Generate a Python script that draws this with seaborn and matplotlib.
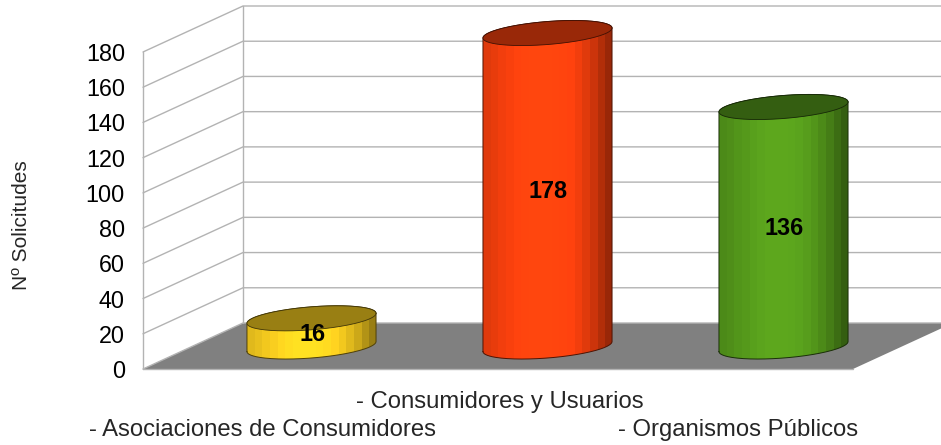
import numpy as np
import pandas as pd
import seaborn as sns
import matplotlib
matplotlib.use("Agg")
import matplotlib.pyplot as plt
from matplotlib.colors import to_rgb
from matplotlib.patches import Polygon

# Values
categories = ["Asociaciones de Consumidores", "Consumidores y Usuarios", "Organismos Públicos"]
solicitudes = [16, 178, 136]
bar_colors = ["#ffd320", "#ff420e", "#579d1c"]
y_ticks = [0, 20, 40, 60, 80, 100, 120, 140, 160, 180]

sns.set_style("white")
plt.rcParams["font.family"] = ["Liberation Sans", "DejaVu Sans"]

W, H = 941, 445
fig = plt.figure(figsize=(W / 100, H / 100), dpi=100, facecolor="white")

# axes box is the front plane of the fake 3D chart, in pixels
left_px, right_px, top_px, bottom_px = 143, 941, 52, 369
ax = fig.add_axes([left_px / W, 1 - bottom_px / H, (right_px - left_px) / W, (bottom_px - top_px) / H])

df = pd.DataFrame({"cat": categories, "n": solicitudes})
sns.barplot(data=df, x="cat", y="n", hue="cat", palette=bar_colors, width=0.547,
            legend=False, ax=ax, zorder=5, linewidth=0)

# category spacing is 236 px, one y unit is 1.761 px
px_x = 236.0
px_y = (bottom_px - top_px) / 180.0
x_min = (left_px - 311.5) / px_x
x_max = (right_px - 311.5) / px_x
ax.set_xlim(x_min, x_max)
ax.set_ylim(0, 180)

depth_x = 100 / px_x
depth_y = 46 / px_y
bar_base = 22.5 / px_y
grid_col = "#b3b3b3"

# floor
x_front_right = x_min + 710 / px_x
ax.fill([x_min, x_min + depth_x, x_front_right + depth_x, x_front_right],
        [0, depth_y, depth_y, 0], color="#808080", lw=0, clip_on=False, zorder=1)

# walls
for v in y_ticks:
    ax.plot([x_min, x_min + depth_x, x_max + 1], [v, v + depth_y, v + depth_y],
            color=grid_col, lw=1.0, clip_on=False, zorder=2)
ax.plot([x_min, x_min], [0, 180], color=grid_col, lw=1.0, clip_on=False, zorder=2)
ax.plot([x_min + depth_x] * 2, [depth_y, 180 + depth_y], color=grid_col, lw=1.0, clip_on=False, zorder=2)
ax.plot([x_min, x_front_right], [0, 0], color=grid_col, lw=1.0, clip_on=False, zorder=2)

# shading strips across a cylinder, left to right
shade = np.array([0.88, 0.91, 0.95, 0.98, 1.02, 1.05, 1.07, 1.07, 1.07, 1.06, 1.04, 1.0, 0.95, 0.88, 0.8, 0.7, 0.6])
t = np.linspace(0, 2 * np.pi, 200)
tilt = 5 / px_y
minor = 11.5 / px_y

for p, col in zip(ax.patches, bar_colors):
    rgb = np.array(to_rgb(col))
    val = p.get_height()
    p.set_y(bar_base)
    cx = p.get_x() + p.get_width() / 2
    a = p.get_width() / 2
    y_top = bar_base + val

    ex = cx + a * np.cos(t)
    ey = tilt * np.cos(t) + minor * np.sin(t)

    # body outline: lower half of the base plus upper half of the top
    low = t >= np.pi
    up = t <= np.pi
    body_x = np.r_[ex[low], ex[up]]
    body_y = np.r_[bar_base + ey[low], y_top + ey[up]]
    body = Polygon(np.c_[body_x, body_y], closed=True, transform=ax.transData, fc="none", ec="none")
    ax.add_patch(body)
    p.set_clip_box(fig.bbox)
    p.set_clip_path(body)

    strips = np.clip(shade[:, None] * rgb, 0, 1)[None, :, :]
    im = ax.imshow(strips, extent=(cx - a, cx + a, bar_base - minor - tilt, y_top + minor + tilt),
                   aspect="auto", interpolation="nearest", zorder=6)
    im.set_clip_box(fig.bbox)
    im.set_clip_path(body)

    ax.plot(np.r_[body_x, body_x[0]], np.r_[body_y, body_y[0]], color=rgb * 0.3, lw=0.7,
            clip_on=False, zorder=7)
    ax.fill(ex, y_top + ey, color=rgb * 0.6, lw=0, clip_on=False, zorder=8)
    ax.plot(ex, y_top + ey, color=rgb * 0.25, lw=0.6, clip_on=False, zorder=9)

# bar_label clips to the view, so open the view while labelling
ax.set_ylim(0, 260)
for c in ax.containers:
    labels = ax.bar_label(c, label_type="center", fontsize=16.8, fontweight="bold", color="black")
    for lab in labels:
        lab.set_zorder(10)
        lab.xyann = (0.7, -1.5)

ax.set_xlim(x_min, x_max)
ax.set_ylim(0, 180)

sns.despine(ax=ax, left=True, bottom=True, top=True, right=True)
ax.patch.set_visible(False)
ax.set_xticks([])
ax.set_xlabel("")
ax.set_ylabel("")
ax.set_yticks(y_ticks)
ax.tick_params(axis="y", length=0, pad=13, labelsize=16.8, labelcolor="black")

fig.text(22 / W, 1 - 225 / H, "Nº Solicitudes", rotation=90, ha="center", va="center", fontsize=15)

# legend-style captions without keys
fig.text(356 / W, 1 - 402 / H, "- " + categories[1], ha="left", va="center", fontsize=17.2)
fig.text(89 / W, 1 - 430 / H, "- " + categories[0], ha="left", va="center", fontsize=17.2)
fig.text(618 / W, 1 - 430 / H, "- " + categories[2], ha="left", va="center", fontsize=17.2)

fig.savefig("out.png", dpi=100, facecolor="white")
